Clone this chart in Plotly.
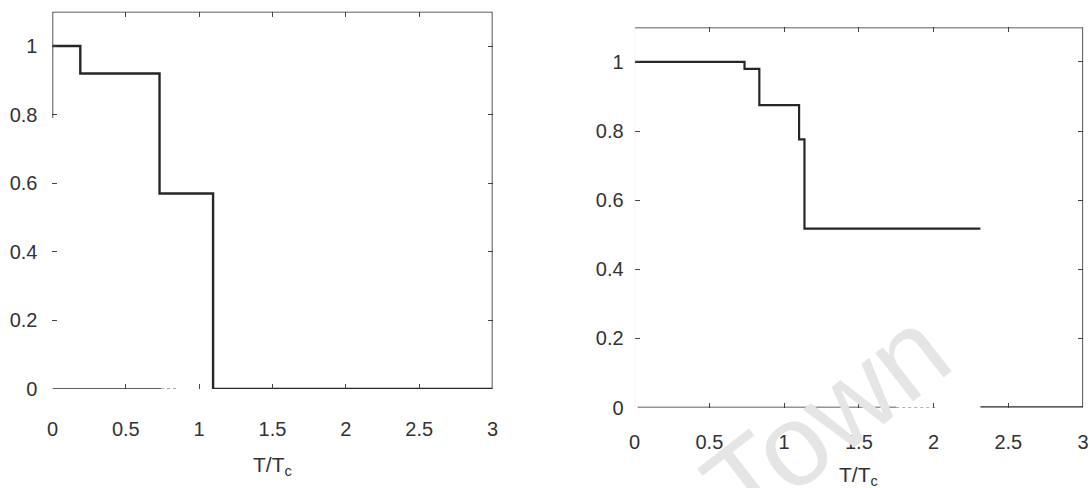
import plotly.graph_objects as go

# Order parameter vs reduced temperature, two runs
left_edges = [0.0, 0.19, 0.73, 1.095, 3.0]
left_levels = [1.0, 0.92, 0.57, 0.0]

right_edges = [0.0, 0.735, 0.834, 1.10, 1.136, 2.313, 3.0]
right_levels = [1.0, 0.98, 0.875, 0.776, 0.518, 0.0]

x_ticks = [0, 0.5, 1, 1.5, 2, 2.5, 3]
x_tick_text = ["0", "0.5", "1", "1.5", "2", "2.5", "3"]
y_ticks = [0, 0.2, 0.4, 0.6, 0.8, 1.0]
y_tick_text = ["0", "0.2", "0.4", "0.6", "0.8", "1"]
x_title = "T/T<sub>c</sub>"

FONT = "Liberation Sans, Arial, sans-serif"
INK = "#262626"


def step_xy(edges, levels):
    xs, ys = [], []
    for i, v in enumerate(levels):
        xs += [edges[i], edges[i + 1]]
        ys += [v, v]
    return xs, ys


fig = go.Figure()

lx, ly = step_xy(left_edges, left_levels)
fig.add_trace(go.Scatter(x=lx, y=ly, mode="lines", xaxis="x", yaxis="y",
                         line=dict(color=INK, width=2.4), hoverinfo="skip"))

# right run: the drop to zero at the last edge is drawn without its connector
rx, ry = step_xy(right_edges[:-1], right_levels[:-1])
fig.add_trace(go.Scatter(x=rx, y=ry, mode="lines", xaxis="x2", yaxis="y2",
                         line=dict(color=INK, width=2.2), hoverinfo="skip"))
fig.add_trace(go.Scatter(x=right_edges[-2:], y=[right_levels[-1]] * 2, mode="lines",
                         xaxis="x2", yaxis="y2",
                         line=dict(color=INK, width=2.6), hoverinfo="skip"))

axis_common = dict(
    showgrid=False, zeroline=False, showline=False,
    ticks="inside", ticklen=5, tickwidth=1.2, tickcolor="#444",
    mirror="ticks", tickfont=dict(family=FONT, size=20, color="#333"),
)

fig.update_layout(
    width=1092, height=488,
    margin=dict(l=0, r=0, t=0, b=0),
    paper_bgcolor="white", plot_bgcolor="white",
    showlegend=False,
    xaxis=dict(domain=[0.043, 0.4505], range=[0, 3], anchor="y",
               tickvals=x_ticks, ticktext=x_tick_text, ticklabelstandoff=26,
               **axis_common),
    yaxis=dict(domain=[0.1844, 0.9754], range=[0, 1.1], anchor="x",
               tickvals=y_ticks, ticktext=y_tick_text, ticklabelstandoff=14,
               **axis_common),
    xaxis2=dict(domain=[0.5821, 0.9973], range=[0, 3], anchor="y2",
                tickvals=x_ticks, ticktext=x_tick_text, ticklabelstandoff=20,
                **axis_common),
    yaxis2=dict(domain=[0.1455, 0.9426], range=[0, 1.1], anchor="x2",
                tickvals=y_ticks, ticktext=y_tick_text, ticklabelstandoff=10,
                **axis_common),
)

frame = dict(color="#2a2a2a", width=1.6)
shapes = [
    # left panel frame
    dict(type="line", xref="x", yref="y", x0=0, x1=3, y0=1.1, y1=1.1, line=frame),
    dict(type="line", xref="x", yref="y", x0=3, x1=3, y0=0, y1=1.1, line=frame),
    dict(type="line", xref="x", yref="y", x0=0, x1=0, y0=0.79, y1=1.1, line=frame),
    dict(type="line", xref="x", yref="y", x0=0, x1=0.74, y0=0, y1=0, line=frame),
    dict(type="line", xref="x", yref="y", x0=0.74, x1=0.85, y0=0, y1=0,
         line=dict(color="#555", width=1.2, dash="dot")),
    # right panel frame
    dict(type="line", xref="x2", yref="y2", x0=0, x1=3, y0=1.1, y1=1.1, line=frame),
    dict(type="line", xref="x2", yref="y2", x0=3, x1=3, y0=0, y1=1.1, line=frame),
    dict(type="line", xref="x2", yref="y2", x0=0, x1=0, y0=0, y1=1.1,
         line=dict(color="#e4e4e4", width=1)),
    dict(type="line", xref="x2", yref="y2", x0=0.02, x1=1.75, y0=0, y1=0, line=frame),
    dict(type="line", xref="x2", yref="y2", x0=1.75, x1=2.02, y0=0, y1=0,
         line=dict(color="#666", width=1.2, dash="dot")),
]
fig.update_layout(shapes=shapes)

annotations = [
    dict(text=x_title, xref="paper", yref="paper", x=0.247, y=1 - 477 / 488,
         xanchor="center", yanchor="middle", showarrow=False,
         font=dict(family=FONT, size=21, color="#333")),
    dict(text=x_title, xref="paper", yref="paper", x=0.7897, y=1 - 487 / 488,
         xanchor="center", yanchor="middle", showarrow=False,
         font=dict(family=FONT, size=21, color="#333")),
    # faint watermark
    dict(text="Town", xref="paper", yref="paper", x=830 / 1092, y=1 - 428 / 488,
         xanchor="center", yanchor="middle", showarrow=False, textangle=-38,
         font=dict(family=FONT, size=116, color="#e5e5e5")),
]
fig.update_layout(annotations=annotations)

fig.write_html("out.html")
